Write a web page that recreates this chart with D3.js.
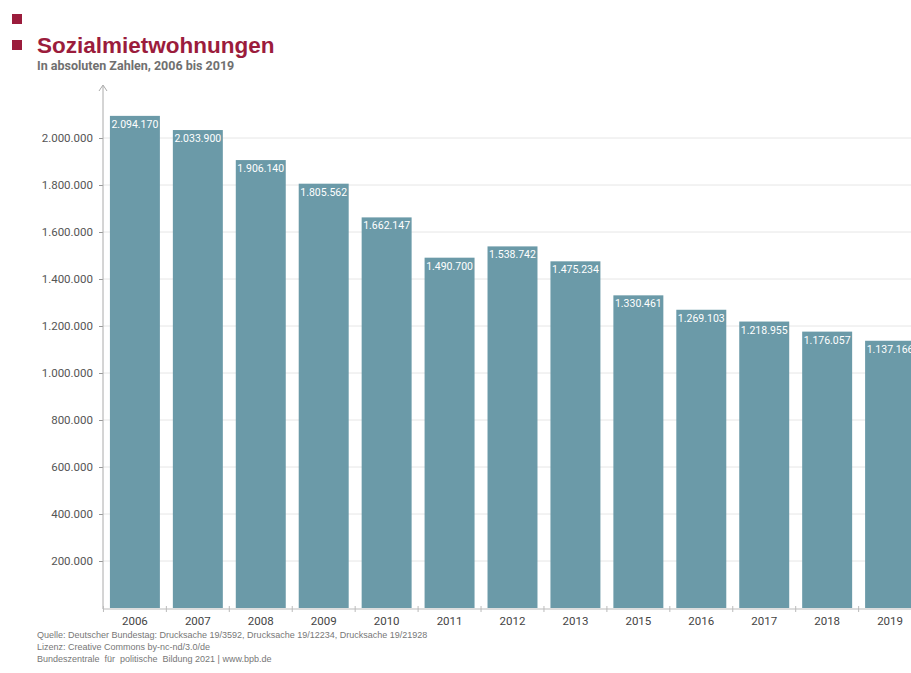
<!DOCTYPE html>
<html>
<head>
<meta charset="utf-8">
<script src="https://cdn.jsdelivr.net/npm/d3@7"></script>
<style>
  body { margin: 0; background: #fff; }
  svg { display: block; }
</style>
</head>
<body>
<svg id="chart" width="911" height="673"></svg>
<script>
const years = ['2006', '2007', '2008', '2009', '2010', '2011', '2012', '2013', '2015', '2016', '2017', '2018', '2019'];
const values = [2094170, 2033900, 1906140, 1805562, 1662147, 1490700, 1538742, 1475234, 1330461, 1269103, 1218955, 1176057, 1137166];
const yTicks = [200000, 400000, 600000, 800000, 1000000, 1200000, 1400000, 1600000, 1800000, 2000000];
const sourceLines = [
  'Quelle: Deutscher Bundestag: Drucksache 19/3592, Drucksache 19/12234, Drucksache 19/21928',
  'Lizenz: Creative Commons by-nc-nd/3.0/de',
  'Bundeszentrale  für  politische  Bildung 2021 | www.bpb.de'
];

const svg = d3.select('#chart');
const fmt = (v) => d3.format(',')(v).replace(/,/g, '.');

const x = d3.scaleBand()
  .domain(years)
  .range([103, 922])
  .paddingInner(0.206)
  .paddingOuter(0.11);

const y = d3.scaleLinear()
  .domain([0, 2200000])
  .range([608, 91]);

// header
svg.append('rect').attr('x', 12).attr('y', 14).attr('width', 10).attr('height', 10).attr('fill', '#9b1c3c');
svg.append('rect').attr('x', 12).attr('y', 40).attr('width', 10).attr('height', 10).attr('fill', '#9b1c3c');
svg.append('text')
  .attr('x', 37).attr('y', 53)
  .attr('font-family', 'Liberation Sans, Arial, sans-serif')
  .attr('font-weight', 'bold')
  .attr('font-size', 22.5)
  .attr('fill', '#9b1c3c')
  .text('Sozialmietwohnungen');
svg.append('text')
  .attr('x', 37).attr('y', 70)
  .attr('font-family', 'Roboto, sans-serif')
  .attr('font-weight', 'bold')
  .attr('font-size', 12.5)
  .attr('fill', '#707070')
  .text('In absoluten Zahlen, 2006 bis 2019');

// gridlines
svg.append('g')
  .selectAll('line')
  .data(yTicks)
  .join('line')
  .attr('x1', 103).attr('x2', 911)
  .attr('y1', (d) => y(d)).attr('y2', (d) => y(d))
  .attr('stroke', '#e6e6e6')
  .attr('stroke-width', 1);

// y axis
const yAxis = svg.append('g')
  .attr('transform', 'translate(103,0)')
  .call(d3.axisLeft(y).tickValues(yTicks).tickFormat(fmt).tickSize(4).tickPadding(6));
yAxis.select('.domain').remove();
yAxis.selectAll('line').attr('stroke', '#999');
yAxis.selectAll('text')
  .attr('font-family', 'Roboto, sans-serif')
  .attr('font-size', 11.5)
  .attr('fill', '#555');

svg.append('line')
  .attr('x1', 103).attr('x2', 103)
  .attr('y1', 609).attr('y2', 86)
  .attr('stroke', '#aaa').attr('stroke-width', 1);
svg.append('path')
  .attr('d', 'M99,91 L103,85 L107,91')
  .attr('fill', 'none').attr('stroke', '#aaa').attr('stroke-width', 1);

// bars
svg.append('g')
  .selectAll('rect')
  .data(years)
  .join('rect')
  .attr('x', (d) => x(d))
  .attr('y', (d, i) => y(values[i]))
  .attr('width', x.bandwidth())
  .attr('height', (d, i) => y(0) - y(values[i]))
  .attr('fill', '#6b9aa8');

// value labels
svg.append('g')
  .selectAll('text')
  .data(years)
  .join('text')
  .attr('x', (d) => x(d) + x.bandwidth() / 2)
  .attr('y', (d, i) => y(values[i]) + 12)
  .attr('text-anchor', 'middle')
  .attr('font-family', 'Roboto, sans-serif')
  .attr('font-size', 10.5)
  .attr('fill', '#fff')
  .text((d, i) => fmt(values[i]));

// x axis
const xAxis = svg.append('g').attr('transform', 'translate(0,609)');
xAxis.append('line')
  .attr('x1', 103).attr('x2', 911)
  .attr('stroke', '#bbb');
xAxis.selectAll('line.tick')
  .data(years)
  .join('line')
  .attr('class', 'tick')
  .attr('x1', (d) => x(d) - x.step() * x.paddingInner() / 2)
  .attr('x2', (d) => x(d) - x.step() * x.paddingInner() / 2)
  .attr('y1', -3).attr('y2', 3)
  .attr('stroke', '#bbb');
xAxis.selectAll('text')
  .data(years)
  .join('text')
  .attr('x', (d) => x(d) + x.bandwidth() / 2)
  .attr('y', 16)
  .attr('text-anchor', 'middle')
  .attr('font-family', 'Roboto, sans-serif')
  .attr('font-size', 11.5)
  .attr('fill', '#444')
  .text((d) => d);

// source
svg.append('g')
  .selectAll('text')
  .data(sourceLines)
  .join('text')
  .attr('x', 37)
  .attr('y', (d, i) => 638 + i * 12)
  .attr('font-family', 'Liberation Sans, Arial, sans-serif')
  .attr('font-size', 9)
  .attr('fill', '#777')
  .attr('xml:space', 'preserve')
  .style('white-space', 'pre')
  .text((d) => d);
</script>
</body>
</html>
